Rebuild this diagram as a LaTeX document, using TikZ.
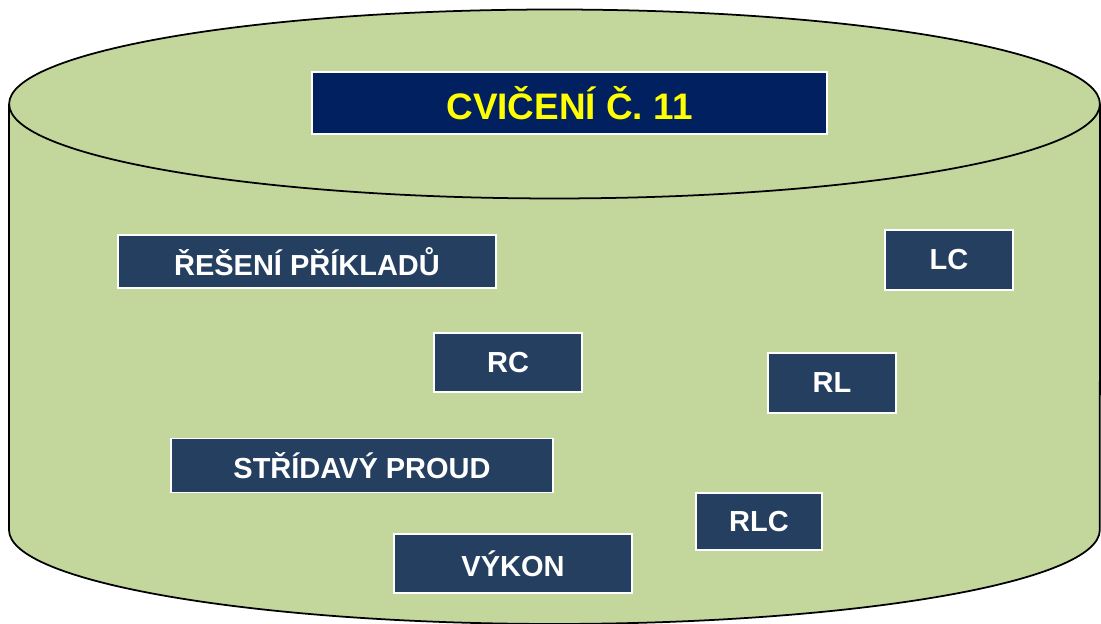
\documentclass[tikz,border=0pt]{standalone}
\usepackage{fontspec}
\setmainfont{Liberation Sans}
\usepackage{tikz}
\usetikzlibrary{positioning}
\definecolor{barrel}{HTML}{C3D69B}
\definecolor{tagblue}{HTML}{243F60}
\definecolor{titleblue}{HTML}{002060}
\definecolor{titleyellow}{HTML}{FFFF00}
\begin{document}
\begin{tikzpicture}[x=0.02cm,y=0.02cm,
    tag/.style={draw=white,line width=0.9pt,fill=tagblue,text=white,inner sep=0pt,
      font=\fontsize{16.5}{18}\selectfont\bfseries},
    headtag/.style={tag,fill=titleblue,text=titleyellow,
      font=\fontsize{21}{24}\selectfont\bfseries}]

    \clip (0,0) rectangle (1101,624);

    % cylinder
    \draw[line width=1pt,fill=barrel] (9,520) -- (9,94)
      arc[start angle=180,end angle=360,x radius=10.91cm,y radius=1.88cm] -- (1100,520);
    \draw[line width=1pt,fill=barrel] (554.5,520) ellipse [x radius=10.91cm,y radius=1.89cm];

    \node (title) at (569.5,521) [headtag,minimum width=10.3cm,minimum height=1.24cm] {CVIČENÍ Č. 11};

    \node (reseni) at (307,362.5) [tag,minimum width=7.56cm,minimum height=1.06cm] {ŘEŠENÍ PŘÍKLADŮ};
    \node (lc) at (949,364) [tag,minimum width=2.56cm,minimum height=1.2cm] {LC};
    \node (rc) at (508,261.5) [tag,minimum width=2.96cm,minimum height=1.18cm] {RC};
    \node (rl) at (832,241) [tag,minimum width=2.56cm,minimum height=1.2cm] {RL};
    \node (stridavy) at (362,158.5) [tag,minimum width=7.64cm,minimum height=1.08cm] {STŘÍDAVÝ PROUD};
    \node (rlc) at (759,102.5) [tag,minimum width=2.52cm,minimum height=1.14cm] {RLC};
    \node (vykon) at (513,60.5) [tag,minimum width=4.76cm,minimum height=1.18cm] {VÝKON};

\end{tikzpicture}
\end{document}
